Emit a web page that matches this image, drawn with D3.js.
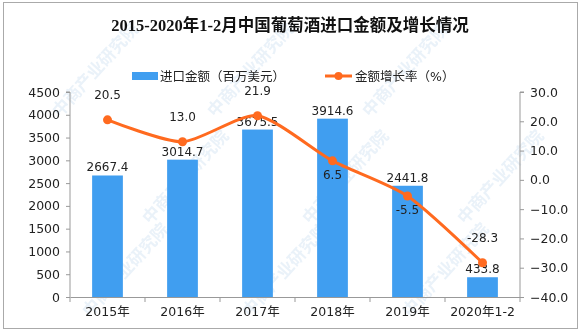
<!DOCTYPE html>
<html><head><meta charset="utf-8">
<script src="https://cdn.jsdelivr.net/npm/d3@7/dist/d3.min.js"></script>
<style>body{margin:0;background:#fff}svg{display:block}</style>
</head><body>
<svg id="c" width="581" height="331"></svg>
<script>
const categories = ["2015年","2016年","2017年","2018年","2019年","2020年1-2"];
const amounts = [2667.4, 3014.7, 3675.5, 3914.6, 2441.8, 433.8];
const growth = [20.5, 13.0, 21.9, 6.5, -5.5, -28.3];
const growthLabelPos = ["above","above","above","below","below","above"];
const leftTicks = [0,500,1000,1500,2000,2500,3000,3500,4000,4500];
const rightTicks = [-40,-30,-20,-10,0,10,20,30];
const title = "2015-2020年1-2月中国葡萄酒进口金额及增长情况";
const legendNames = ["进口金额（百万美元）","金额增长率（%）"];

const svg = d3.select("#c");
const W = 581, H = 331;
const m = {l:70, r:520, t:92, b:297};
const barColor = "#409EF0", lineColor = "#FF6A1F", axisColor = "#999";
const font = "'DejaVu Sans','Noto Sans CJK SC',sans-serif";

// frame
svg.append("rect").attr("x",3.5).attr("y",2.5).attr("width",W-7).attr("height",H-5)
  .attr("fill","#fff").attr("stroke","#aaa");

// watermarks
const wm = svg.append("g").attr("fill","#dce9f5").attr("opacity",0.6)
  .style("font-family","'Noto Sans CJK SC',sans-serif").style("font-size","17px").style("font-weight","bold");
[[60,118],[215,118],[370,118],[90,318],[250,318],[410,318],[150,225],[310,225],[465,225]].forEach(([x,y])=>{
  wm.append("text").attr("transform",`translate(${x},${y}) rotate(-48)`).text("中商产业研究院");
});

const x = d3.scaleBand().domain(categories).range([m.l,m.r]).paddingInner(0.59).paddingOuter(0.295);
const xb = d3.scaleBand().domain(categories).range([m.l,m.r]);
const yL = d3.scaleLinear().domain([0,4500]).range([m.b,m.t]);
const yR = d3.scaleLinear().domain([-40,30]).range([m.b,m.t]);

// title
svg.append("text").attr("x",290).attr("y",31).attr("text-anchor","middle")
  .style("font-family","'Liberation Serif','Noto Sans CJK SC',serif").style("font-weight","bold").style("font-size","16.5px")
  .attr("fill","#111").text(title);

// legend
const lg = svg.append("g").style("font-family",font).style("font-size","12.5px").attr("fill","#222");
lg.append("rect").attr("x",132).attr("y",72).attr("width",26).attr("height",8).attr("fill",barColor);
lg.append("text").attr("x",160).attr("y",80.5).text(legendNames[0]);
lg.append("line").attr("x1",325).attr("x2",352).attr("y1",76).attr("y2",76).attr("stroke",lineColor).attr("stroke-width",3);
lg.append("circle").attr("cx",338.5).attr("cy",76).attr("r",4).attr("fill",lineColor);
lg.append("text").attr("x",355).attr("y",80.5).text(legendNames[1]);

// axes
const axL = svg.append("g").attr("transform",`translate(${m.l},0)`)
  .call(d3.axisLeft(yL).tickValues(leftTicks).tickSize(4).tickSizeOuter(0).tickPadding(6).tickFormat(d3.format("d")));
const axR = svg.append("g").attr("transform",`translate(${m.r},0)`)
  .call(d3.axisRight(yR).tickValues(rightTicks).tickSize(4).tickSizeOuter(0).tickPadding(6).tickFormat(d3.format(".1f")));
const axB = svg.append("g").attr("transform",`translate(0,${m.b})`)
  .call(d3.axisBottom(xb).tickSize(0).tickSizeOuter(0).tickPadding(10));
axB.selectAll(".bt").data(d3.range(categories.length+1)).enter().append("line")
  .attr("x1",i=>m.l+i*xb.step()).attr("x2",i=>m.l+i*xb.step()).attr("y1",0).attr("y2",5)
  .attr("stroke",axisColor);
[axL,axR,axB].forEach(a=>{
  a.selectAll("path,line").attr("stroke",axisColor);
  a.selectAll("text").style("font-family",font).style("font-size","12.5px").attr("fill","#222");
});
axL.select(".domain").attr("d",`M-4,${m.t}H0V${m.b}`);
axR.select(".domain").attr("d",`M4,${m.t}H0V${m.b}`);

// bars
svg.append("g").selectAll("rect").data(amounts).enter().append("rect")
  .attr("x",(d,i)=>x(categories[i])).attr("width",x.bandwidth())
  .attr("y",d=>yL(d)).attr("height",d=>m.b-yL(d)).attr("fill",barColor);
svg.append("g").selectAll("text").data(amounts).enter().append("text")
  .attr("x",(d,i)=>x(categories[i])+x.bandwidth()/2).attr("y",d=>yL(d)-4)
  .attr("text-anchor","middle").style("font-family",font).style("font-size","12px").attr("fill","#222")
  .text(d=>d.toFixed(1));

// line
const cx = i=>xb(categories[i])+xb.bandwidth()/2;
const line = d3.line().x((d,i)=>cx(i)).y(d=>yR(d)).curve(d3.curveCardinal.tension(0.3));
svg.append("path").datum(growth).attr("d",line).attr("fill","none").attr("stroke",lineColor).attr("stroke-width",3);
svg.append("g").selectAll("circle").data(growth).enter().append("circle")
  .attr("cx",(d,i)=>cx(i)).attr("cy",d=>yR(d)).attr("r",4.5).attr("fill",lineColor);
svg.append("g").selectAll("text").data(growth).enter().append("text")
  .attr("x",(d,i)=>cx(i)).attr("y",(d,i)=>growthLabelPos[i]==="above"?yR(d)-21:yR(d)+18)
  .attr("text-anchor","middle").style("font-family",font).style("font-size","12px").attr("fill","#222")
  .text(d=>d.toFixed(1));
</script>
</body></html>
